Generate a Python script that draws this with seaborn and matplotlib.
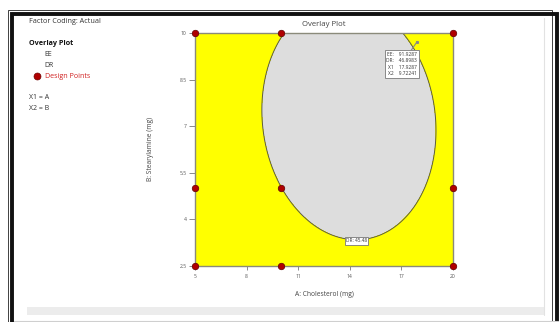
import numpy as np
import pandas as pd
import matplotlib
matplotlib.use("Agg")
import matplotlib.pyplot as plt
from matplotlib.patches import Rectangle
from matplotlib.lines import Line2D
import seaborn as sns

# Factorial design points (A: cholesterol, B: stearylamine)
design_a = [5, 10, 20, 5, 10, 20, 5, 10, 20]
design_b = [2.5, 2.5, 2.5, 5, 5, 5, 10, 10, 10]

# Sampled edge of the region where both EE and DR criteria are met
edge_a = [10.05, 9.37, 8.94, 9.27, 10.05, 11.11, 12.47, 14.41, 16.35,
          17.91, 18.87, 19.10, 18.87, 18.10, 17.03]
edge_b = [10.0, 8.97, 7.36, 5.96, 4.99, 4.24, 3.60, 3.27, 3.71,
          4.67, 5.75, 6.82, 7.90, 9.07, 10.0]

# Flagged optimum
flag_x1 = 17.9287
flag_x2 = 9.72241
flag_ee = 91.9287
flag_dr = 46.8983

# DR contour label
dr_level = 45.48
dr_label_a = 14.4
dr_label_b = 3.3

x_ticks = [5, 8, 11, 14, 17, 20]
y_ticks = [2.5, 4, 5.5, 7, 8.5, 10]
y_tick_labels = ["2.5", "4", "5.5", "7", "8.5", "10"]

sns.set_style("white")
plt.rcParams["font.family"] = ["Open Sans", "DejaVu Sans"]

W, H = 559, 322
fig = plt.figure(figsize=(W / 100, H / 100), dpi=100)


def fx(px):
    return px / W


def fy(py):
    return 1 - py / H


# window frame
fig.patches.append(Rectangle((fx(7.5), fy(330)), fx(551.5 - 7.5), fy(9.5) - fy(330),
                             transform=fig.transFigure, fill=False,
                             edgecolor="#222222", linewidth=0.6))
fig.patches.append(Rectangle((fx(11.5), fy(330)), fx(556.5 - 11.5), fy(14) - fy(330),
                             transform=fig.transFigure, fill=False,
                             edgecolor="#111111", linewidth=2.8))
fig.patches.append(Rectangle((fx(27), fy(315)), fx(544 - 27), fy(307) - fy(315),
                             transform=fig.transFigure, facecolor="#ececec",
                             edgecolor="none"))
fig.lines.append(Line2D([fx(544), fx(544)], [fy(18), fy(315)],
                        transform=fig.transFigure, color="#e2e2e2", linewidth=0.8))
fig.lines.append(Line2D([fx(14), fx(559)], [fy(320.8), fy(320.8)],
                        transform=fig.transFigure, color="#cfcfcf", linewidth=0.8))

ax = fig.add_axes([fx(195), fy(265.7), fx(452.7 - 195), fy(33) - fy(265.7)])

# Quadratic surface through the sampled edge; its zero contour bounds the region
ea = np.asarray(edge_a)
eb = np.asarray(edge_b)
u = (ea - 12.5) / 7.5
v = (eb - 6.25) / 3.75
M = np.column_stack([u ** 2, u * v, v ** 2, u, v, np.ones_like(u)])
_, _, vt = np.linalg.svd(M)
coef = vt[-1]

ga, gb = np.meshgrid(np.linspace(5, 20, 500), np.linspace(2.5, 10, 500))
gu = (ga - 12.5) / 7.5
gv = (gb - 6.25) / 3.75
Z = (coef[0] * gu ** 2 + coef[1] * gu * gv + coef[2] * gv ** 2
     + coef[3] * gu + coef[4] * gv + coef[5])
cu, cv = (14 - 12.5) / 7.5, (6.5 - 6.25) / 3.75
zc = (coef[0] * cu ** 2 + coef[1] * cu * cv + coef[2] * cv ** 2
      + coef[3] * cu + coef[4] * cv + coef[5])
if zc > 0:
    Z = -Z

ax.contourf(ga, gb, Z, levels=[Z.min() - 1, 0, Z.max() + 1],
            colors=["#dddddd", "#ffff00"])
ax.contour(ga, gb, Z, levels=[0], colors="#5a5a4a", linewidths=0.7)

design = pd.DataFrame({"A": design_a, "B": design_b})
sns.scatterplot(data=design, x="A", y="B", ax=ax, s=22, color="#b00000",
                edgecolor="#600000", linewidth=0.5, clip_on=False, zorder=5)

ax.set_xlim(5, 20)
ax.set_ylim(2.5, 10)
ax.set_xticks(x_ticks)
ax.set_xticklabels([str(t) for t in x_ticks])
ax.set_yticks(y_ticks)
ax.set_yticklabels(y_tick_labels)
ax.tick_params(axis="x", direction="out", length=3, width=0.6, colors="#777777",
               labelsize=3.6, labelcolor="#555555", pad=3, bottom=True)
ax.tick_params(axis="y", direction="out", length=4.5, width=0.6, colors="#777777",
               labelsize=3.6, labelcolor="#555555", pad=1.5, left=True)
for s in ax.spines.values():
    s.set_color("#8a8a7a")
    s.set_linewidth(1.0)
ax.set_xlabel("")
ax.set_ylabel("")

# Flag at the optimum
ax.annotate(f"EE:    {flag_ee:.4f}\nDR:    {flag_dr:.4f}\nX1    {flag_x1:.4f}\nX2    {flag_x2:.5f}",
            xy=(flag_x1, flag_x2), xytext=(0, -7.5), textcoords="offset points",
            ha="right", va="top", fontsize=3.5, color="#333333", linespacing=1.35,
            bbox=dict(boxstyle="square,pad=0.35", facecolor="white",
                      edgecolor="#888888", linewidth=0.7),
            arrowprops=dict(arrowstyle="-", color="#888888", linewidth=0.8,
                            shrinkA=0, shrinkB=0), zorder=6)
ax.plot([flag_x1], [flag_x2], marker="s", markersize=1.2, color="#888888", zorder=6)

ax.text(dr_label_a, dr_label_b, f"DR: {dr_level:.2f}", ha="center", va="center",
        fontsize=3.4, color="#333333", zorder=6,
        bbox=dict(boxstyle="square,pad=0.25", facecolor="white",
                  edgecolor="#777777", linewidth=0.6))

# Titles and axis labels
fig.text(fx(324), fy(25), "Overlay Plot", ha="center", va="center",
         fontsize=5.6, color="#444444")
fig.text(fx(324), fy(294), "A: Cholesterol (mg)", ha="center", va="center",
         fontsize=4.8, color="#444444")
fig.text(fx(150.7), fy(149), "B: Stearylamine (mg)", ha="center", va="center",
         rotation=90, fontsize=4.8, color="#444444")

# Side legend
fig.text(fx(29.3), fy(21.5), "Factor Coding: Actual", ha="left", va="center",
         fontsize=5.2, color="#333333")
fig.text(fx(29.3), fy(43.3), "Overlay Plot", ha="left", va="center",
         fontsize=5.2, color="#111111", fontweight="bold")
fig.text(fx(44.3), fy(54.2), "EE", ha="left", va="center", fontsize=5.0, color="#333333")
fig.text(fx(44.3), fy(65.2), "DR", ha="left", va="center", fontsize=5.0, color="#333333")
fig.lines.append(Line2D([fx(36.7)], [fy(76)], transform=fig.transFigure, marker="o",
                        markersize=5.0, color="#b00000", markeredgecolor="#700000",
                        markeredgewidth=0.5))
fig.text(fx(44.8), fy(76), "Design Points", ha="left", va="center",
         fontsize=5.1, color="#d02020")
fig.text(fx(29.3), fy(97.7), "X1 = A", ha="left", va="center", fontsize=5.0, color="#333333")
fig.text(fx(29.3), fy(108.7), "X2 = B", ha="left", va="center", fontsize=5.0, color="#333333")

fig.savefig("out.png", dpi=100)
